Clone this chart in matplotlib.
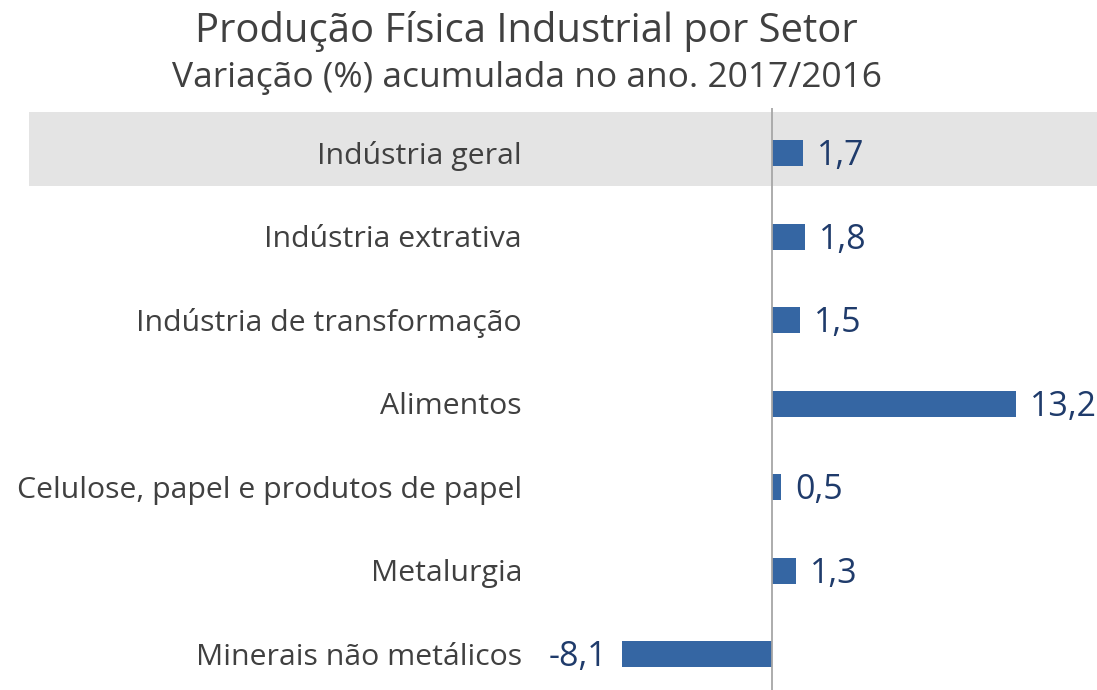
import matplotlib
matplotlib.use("Agg")
import matplotlib.pyplot as plt

categories = ["Indústria geral", "Indústria extrativa", "Indústria de transformação",
              "Alimentos", "Celulose, papel e produtos de papel", "Metalurgia",
              "Minerais não metálicos"]
values = [1.7, 1.8, 1.5, 13.2, 0.5, 1.3, -8.1]
value_labels = ["1,7", "1,8", "1,5", "13,2", "0,5", "1,3", "-8,1"]

plt.rcParams['font.family'] = ['Open Sans', 'DejaVu Sans']

W, H = 1097, 690
fig = plt.figure(figsize=(W/100, H/100), dpi=100)
top_px, bot_px = 108, 690
ax = fig.add_axes([0, 1 - bot_px/H, 1, (bot_px - top_px)/H])

pxu = 18.5  # px per unit
zero_px = 772
ax.set_xlim(-zero_px/pxu, (W - zero_px)/pxu)
rowh = 83.5
c0 = 153
ax.set_ylim((bot_px - c0)/rowh, (top_px - c0)/rowh)
ax.axis('off')

# highlight band
ax.axhspan((112 - c0)/rowh, (186 - c0)/rowh, xmin=29/W, xmax=1, color='#E4E4E4', zorder=0, lw=0)

ys = list(range(len(categories)))
ax.barh(ys, values, height=26/rowh, color='#3566A3', zorder=2)
ax.axvline(0, color='#A6A6A6', lw=1.3, zorder=3)

lab_x = (522 - zero_px)/pxu
dy = -2.2  # points, shift text slightly down
for y, c, v, vl in zip(ys, categories, values, value_labels):
    ax.annotate(c, (lab_x, y), xytext=(0, dy), textcoords='offset points',
                ha='right', va='center', fontsize=21.8, color='#404040')
    if v >= 0:
        ax.annotate(vl, (v, y), xytext=(10, dy), textcoords='offset points',
                    ha='left', va='center', fontsize=24.5, color='#1F3B6B')
    else:
        ax.annotate(vl, (v, y), xytext=(-11, dy), textcoords='offset points',
                    ha='right', va='center', fontsize=24.5, color='#1F3B6B')

fig.text(526/W, 1 - 31/H, "Produção Física Industrial por Setor", ha='center', va='center',
         fontsize=28.8, color='#404040')
fig.text(527/W, 1 - 78/H, "Variação (%) acumulada no ano. 2017/2016", ha='center', va='center',
         fontsize=25.5, color='#404040')

fig.savefig("out.png", dpi=100)
